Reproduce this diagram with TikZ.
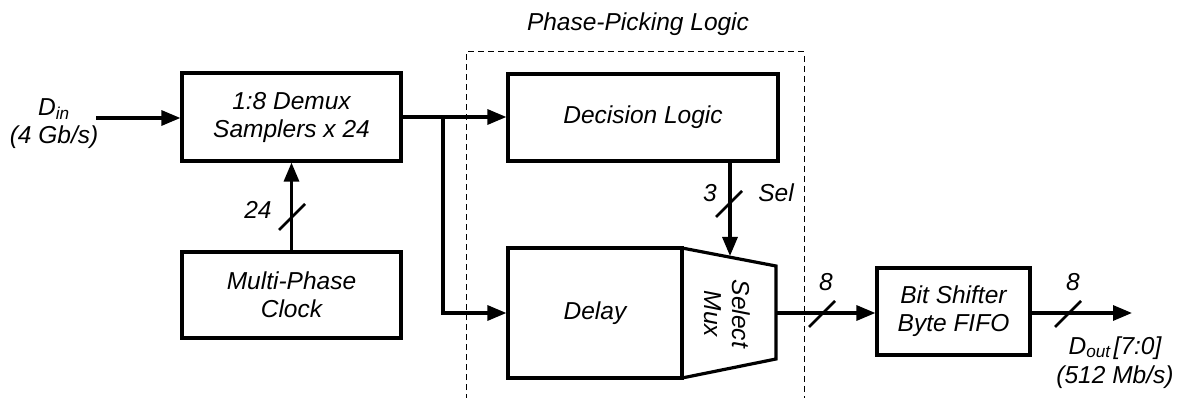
\documentclass[tikz,border=0pt]{standalone}
\usepackage{fontspec}
\setmainfont{Liberation Sans}
\usetikzlibrary{arrows.meta,calc}

\newcommand{\diagfont}{\fontsize{24.5}{28}\selectfont\itshape}

\tikzset{
  blk/.style={draw, line width=3.2pt, rectangle, inner sep=0pt,
              font=\diagfont, align=center},
  lbl/.style={font=\diagfont, align=center, inner sep=0pt},
  wire/.style={line width=3.2pt},
  arr/.style={wire, -{Triangle[length=19pt,width=15pt]}},
  busmark/.style={line width=2.6pt},
  grp/.style={draw, line width=1pt, dash pattern=on 6pt off 4pt}
}

\begin{document}
\begin{tikzpicture}[x=1pt, y=-1pt]
\useasboundingbox (0,0) rectangle (1184,398);

% dashed group around the phase-picking blocks
\draw[grp] (466,430) -- (466,52) -- (804,52) -- (804,430);
\node[lbl] (grptitle) at (638,24) {Phase-Picking Logic};

% blocks
\node[blk, minimum width=219, minimum height=88] (demux) at (291.5,117)
  {1:8 Demux\\Samplers x 24};
\node[blk, minimum width=219, minimum height=86] (clk) at (291.5,295)
  {Multi-Phase\\Clock};
\node[blk, minimum width=270, minimum height=87] (dec) at (643,117.5)
  {Decision Logic};
\node[blk, minimum width=174, minimum height=130] (delay) at (595,313)
  {Delay};
\node[blk, minimum width=153, minimum height=87] (fifo) at (953.5,311.5)
  {Bit Shifter\\Byte FIFO};

% select mux (trapezoid)
\coordinate (mtl) at (682,248);
\coordinate (mtr) at (776,266);
\coordinate (mbr) at (776,359);
\coordinate (mbl) at (682,378);
\draw[line width=3.2pt, line join=miter] (mtl) -- (mtr) -- (mbr) -- (mbl) -- cycle;
\node[lbl, rotate=-90] (mux) at (727,314) {Select\\Mux};
\coordinate (muxin) at (730,256);
\coordinate (muxout) at (776,313);

% input
\node[lbl] (din) at (54,124) {D\textsubscript{in}\\(4 Gb/s)};
\coordinate (dinstart) at (96,118);
\draw[arr] (dinstart) -- (demux.west |- dinstart);

% clock bus
\draw[arr] (clk.north) -- (demux.south);
\draw[busmark] (279,230) -- (305,204);
\node[lbl] (n24) at (258,210) {24};

% demux fan-out
\coordinate (split) at (443,117);
\draw[wire] (demux.east |- split) -- (split);
\draw[arr] (split) -- (dec.west |- split);
\draw[arr] (split) -- (443,313) -- (delay.west |- 0,313);

% select lines
\draw[arr] (dec.south -| muxin) -- (muxin);
\draw[busmark] (716,217) -- (742,191);
\node[lbl] (n3) at (710,193) {3};
\node[lbl] (sel) at (776,193) {Sel};

% mux output to FIFO
\draw[arr] (muxout) -- (fifo.west |- muxout);
\draw[busmark] (809,327) -- (835,301);
\node[lbl] (n8a) at (826,282) {8};

% output
\coordinate (dout) at (1132,313);
\draw[arr] (fifo.east |- dout) -- (dout);
\draw[busmark] (1055,327) -- (1081,301);
\node[lbl] (n8b) at (1073,282) {8};
\node[lbl, anchor=base, text depth=0pt] (doutname) at (1115,354)
  {D\textsubscript{out}\kern3pt[7:0]};
\node[lbl, anchor=base] (doutrate) at (1115,383) {(512 Mb/s)};
\end{tikzpicture}
\end{document}
